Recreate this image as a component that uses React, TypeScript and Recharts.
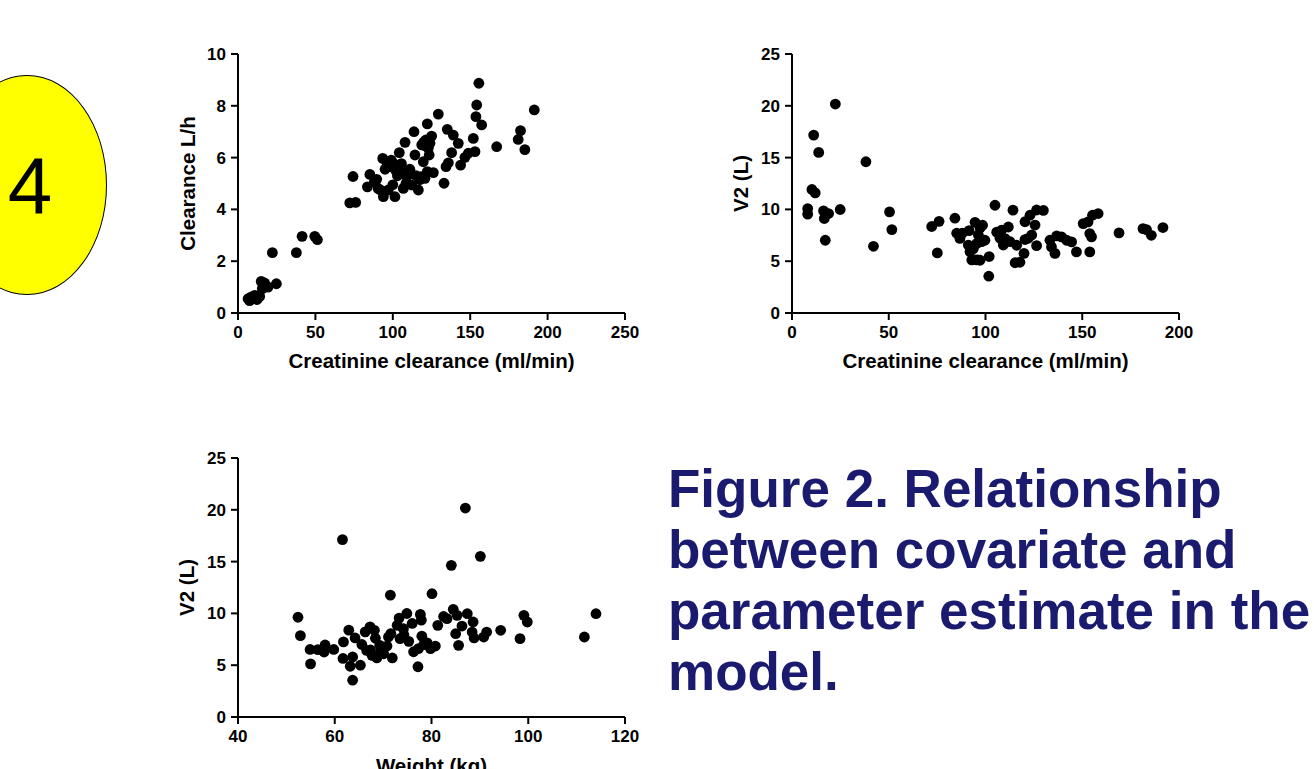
import React from "react";
import { ScatterChart, Scatter, XAxis, YAxis } from "recharts";

// Panel A: creatinine clearance vs clearance
const crclA = [
  6.5, 7.5, 8.6, 10.8, 12.3, 14, 15.7, 15, 17.2, 19.4, 24.8, 22.2, 37.7, 41.4, 49.6, 51.3, 72.2, 76, 74.3,
  83.6, 85.2, 89.6, 90.6, 93.9, 97.1, 101.4, 93.5, 96, 98.2, 100.3, 104.2, 107.9, 105.7, 109, 106.8, 112.2,
  114.3, 113.7, 116.5, 118, 119.7, 118.7, 122.3, 121.4, 122.9, 125.1, 124, 122.3, 126.2, 120.8, 129.4, 133.1,
  134.4, 135.9, 135.2, 139.1, 138, 142.3, 143.8, 146.6, 148.8, 152, 153.1, 153.7, 154.2, 155.6, 157.4, 167.1,
  181, 182.5, 185.3, 191.4, 95, 99, 102, 103, 108.5, 110, 111, 115, 117.5, 120, 121, 123.5, 100, 92, 88, 105.6,
];
const clA = [
  0.55, 0.48, 0.62, 0.68, 0.52, 0.64, 0.94, 1.22, 1.16, 1.0, 1.13, 2.33, 2.33, 2.96, 2.96, 2.83, 4.25, 4.27, 5.27,
  4.87, 5.35, 5.16, 4.8, 4.49, 4.75, 4.49, 5.97, 5.84, 5.65, 5.78, 6.19, 6.59, 5.46, 5.26, 4.81, 4.94,
  6.1, 7.0, 4.75, 5.26, 5.84, 6.49, 7.3, 6.68, 6.36, 6.83, 6.55, 5.46, 5.42, 5.2, 7.68, 5.01,
  5.65, 5.8, 7.09, 6.87, 6.19, 6.55, 5.71, 6.01, 6.17, 6.74, 6.23, 7.58, 8.03, 8.87, 7.26, 6.42,
  6.7, 7.04, 6.31, 7.84, 5.55, 5.9, 5.5, 5.3, 5.0, 5.35, 5.55, 5.3, 5.15, 6.6, 6.45, 6.1, 4.95, 4.75, 5.05, 5.77,
];

// Panel B: creatinine clearance vs V2
const crclB = [
  8.1, 8.1, 10.3, 12, 11.2, 13.8, 16.3, 16.7, 18.9, 24.9, 17.2, 22.4, 38.2, 42.1, 50.4, 51.6, 72.2, 76, 75.1,
  84.2, 85.1, 86.8, 91.1, 92, 92.9, 95.5, 94.6, 97.2, 98, 96.3, 91.5, 99.7, 101.9, 101.7, 104.9, 105.8, 107.5,
  109.2, 111.8, 114.2, 112.7, 115.3, 117.8, 119.9, 120.4, 122.1, 123.9, 125.6, 126.4, 126.4, 129.9, 123, 110.1,
  108.3, 116.1, 120.4, 133.3, 134.1, 135.9, 136.8, 139.3, 141.9, 144.5, 147, 150.5, 153, 153.9, 154.8, 153.9,
  155.3, 158.2, 169, 181.4, 183.2, 185.7, 191.7, 93.7, 95.4, 97.2, 98.5, 88,
];
const v2B = [
  10.08, 9.54, 11.92, 11.6, 17.17, 15.5, 9.86, 9.12, 9.6, 9.99, 7.02, 20.17, 14.6, 6.44, 9.76, 8.05, 8.35, 8.85, 5.8,
  9.15, 7.7, 7.2, 6.56, 5.92, 5.12, 5.12, 8.75, 8.2, 6.88, 7.53, 7.95, 7.02, 5.45, 3.55, 10.4, 7.8, 7.21,
  6.56, 8.3, 9.93, 6.88, 4.85, 4.9, 5.76, 8.81, 7.21, 7.53, 8.49, 6.5, 9.94, 9.9, 9.44, 7.18,
  7.99, 6.54, 7.09, 7.02, 6.38, 5.76, 7.45, 7.35, 7.02, 6.86, 5.9, 8.63, 8.8, 7.67, 7.35, 5.9,
  9.44, 9.6, 7.73, 8.15, 8.05, 7.5, 8.25, 6.2, 6.7, 5.09, 8.47, 7.7,
];

// Panel C: weight vs V2
const weightC = [
  52.4, 52.9, 54.9, 55, 56.5, 58, 57.8, 59.8, 61.6, 61.8, 61.7, 62.9, 63.2, 63.7, 63.7, 64.2, 65.3, 65.6, 66.3,
  66.6, 67.3, 67.4, 67.7, 68.2, 68.4, 68.7, 69.3, 70.1, 70.8, 71.1, 71.5, 71.9, 71.6, 72.9, 73.3, 73.5, 74.2,
  74.9, 75.3, 76, 76.3, 77.2, 77.3, 77.7, 77.9, 78, 78.4, 79.1, 80.1, 79.8, 80.8, 81.3, 82.5, 83.2, 84.1, 84.5,
  85, 85.3, 85.6, 86.3, 87, 87.4, 88.4, 88.6, 88.8, 90.1, 90.8, 91.4, 94.3, 98.3, 99.1, 99.8, 111.6, 114, 74.3, 69.5,
];
const v2C = [
  9.63, 7.85, 6.52, 5.13, 6.5, 6.95, 6.27, 6.52, 17.12, 7.25, 5.65, 8.38, 4.9, 5.79, 3.55, 7.63, 5.0, 7.0, 8.22,
  6.43, 8.7, 6.47, 5.95, 8.37, 7.6, 5.7, 6.92, 6.1, 6.85, 7.72, 11.76, 5.7, 8.05, 8.85, 9.55, 7.56, 8.53,
  9.99, 7.3, 9.03, 6.3, 4.85, 6.6, 9.9, 9.35, 7.8, 6.98, 7.15, 11.9, 6.6, 6.85, 8.85, 9.7, 9.49, 14.64, 10.39,
  8.04, 9.81, 6.92, 8.78, 20.17, 9.97, 8.2, 9.17, 7.63, 15.51, 7.72, 8.2, 8.37, 7.56, 9.81, 9.17, 7.72, 9.97, 7.92, 6.3,
];

const crclTicksA = [0, 50, 100, 150, 200, 250];
const clTicks = [0, 2, 4, 6, 8, 10];
const crclTicksB = [0, 50, 100, 150, 200];
const v2Ticks = [0, 5, 10, 15, 20, 25];
const weightTicks = [40, 60, 80, 100, 120];

const titleLines = ["Figure 2. Relationship", "between covariate and", "parameter estimate in the", "model."];

const toPoints = (xs: number[], ys: number[]) => xs.map((x, i) => ({ x, y: ys[i] }));

const font = "'Liberation Sans', Arial, sans-serif";

const Dot = (props: any) => <circle cx={props.cx} cy={props.cy} r={5.4} fill="#000" />;

function Panel({ left, top, data, xTicks, yTicks, xLabel, yLabel, yLabelOffset, xLabelOffset }: any) {
  const tick = { fill: "#000", fontSize: 17, fontWeight: "bold", fontFamily: font };
  const line = { stroke: "#000", strokeWidth: 2 };
  return (
    <div style={{ position: "absolute", left, top }}>
      <ScatterChart width={500} height={370} margin={{ top: 24, right: 35, bottom: 27, left: 0 }}>
        <XAxis
          type="number"
          dataKey="x"
          domain={[xTicks[0], xTicks[xTicks.length - 1]]}
          ticks={xTicks}
          interval={0}
          height={60}
          tickSize={7}
          tickMargin={6}
          axisLine={line}
          tickLine={line}
          tick={tick}
          allowDataOverflow
          label={{
            value: xLabel,
            position: "insideBottom",
            offset: xLabelOffset,
            fill: "#000",
            fontSize: 20.5,
            fontWeight: "bold",
            fontFamily: font,
          }}
        />
        <YAxis
          type="number"
          dataKey="y"
          domain={[yTicks[0], yTicks[yTicks.length - 1]]}
          ticks={yTicks}
          interval={0}
          width={78}
          tickSize={7}
          tickMargin={5}
          axisLine={line}
          tickLine={line}
          tick={tick}
          allowDataOverflow
          label={{
            value: yLabel,
            angle: -90,
            position: "insideLeft",
            offset: yLabelOffset,
            fill: "#000",
            fontSize: 20.5,
            fontWeight: "bold",
            fontFamily: font,
            style: { textAnchor: "middle" },
          }}
        />
        <Scatter data={data} fill="#000" shape={Dot} isAnimationActive={false} />
      </ScatterChart>
    </div>
  );
}

export default function App() {
  return (
    <div
      style={{
        position: "absolute",
        left: 0,
        top: 0,
        width: 1314,
        height: 769,
        overflow: "hidden",
        background: "#fff",
        fontFamily: font,
      }}
    >
      <div
        style={{
          position: "absolute",
          left: -53,
          top: 75,
          width: 160,
          height: 220,
          borderRadius: "50%",
          background: "#ffff00",
          border: "1.5px solid #000",
          boxSizing: "border-box",
        }}
      />
      <div style={{ position: "absolute", left: 0, top: 146, width: 60, textAlign: "center", fontSize: 80, lineHeight: "80px", color: "#000" }}>
        4
      </div>

      <Panel
        left={160}
        top={30}
        data={toPoints(crclA, clA)}
        xTicks={crclTicksA}
        yTicks={clTicks}
        xLabel="Creatinine clearance (ml/min)"
        yLabel="Clearance L/h"
        yLabelOffset={28}
        xLabelOffset={5}
      />
      <Panel
        left={714}
        top={30}
        data={toPoints(crclB, v2B)}
        xTicks={crclTicksB}
        yTicks={v2Ticks}
        xLabel="Creatinine clearance (ml/min)"
        yLabel="V2 (L)"
        yLabelOffset={26.5}
        xLabelOffset={5}
      />
      <Panel
        left={160}
        top={434}
        data={toPoints(weightC, v2C)}
        xTicks={weightTicks}
        yTicks={v2Ticks}
        xLabel="Weight (kg)"
        yLabel="V2 (L)"
        yLabelOffset={26.7}
        xLabelOffset={4}
      />

      <div
        style={{
          position: "absolute",
          left: 668,
          top: 458,
          fontSize: 53,
          lineHeight: "61px",
          fontWeight: "bold",
          color: "#1a1a6e",
          whiteSpace: "nowrap",
        }}
      >
        {titleLines.map((t) => (
          <div key={t}>{t}</div>
        ))}
      </div>
    </div>
  );
}
